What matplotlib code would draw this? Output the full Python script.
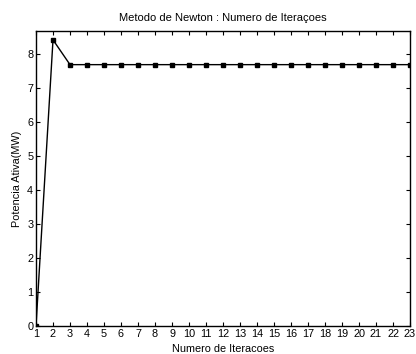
import numpy as np
import matplotlib
matplotlib.use('Agg')
import matplotlib.pyplot as plt

iteracoes = list(range(1, 24))
potencia = [0.0, 8.42] + [7.69] * 21

fig = plt.figure(figsize=(4.16, 3.54), dpi=100)
ax = fig.add_axes([36 / 416, 28 / 354, 374 / 416, 295 / 354])
ax.plot(iteracoes, potencia, color='black', lw=1, marker='s', ms=3.5,
        mfc='black', mec='black')
ax.set_xlim(1, 23)
ax.set_ylim(0, 8.68)
ax.set_xticks(iteracoes)
ax.set_yticks(range(0, 9))
ax.tick_params(direction='in', top=True, right=True, labelsize=7.8, length=3, pad=2)
for s in ax.spines.values():
    s.set_linewidth(1)
ax.set_title('Metodo de Newton : Numero de Iteraçoes', fontsize=8, pad=7,
             family='Liberation Sans')
ax.set_xlabel('Numero de Iteracoes', fontsize=7.8, labelpad=4, family='Liberation Sans')
ax.set_ylabel('Potencia Ativa(MW)', fontsize=7.8, labelpad=4, family='Liberation Sans')
for lab in ax.get_xticklabels() + ax.get_yticklabels():
    lab.set_family('Liberation Sans')
fig.savefig('out.png', dpi=100)
